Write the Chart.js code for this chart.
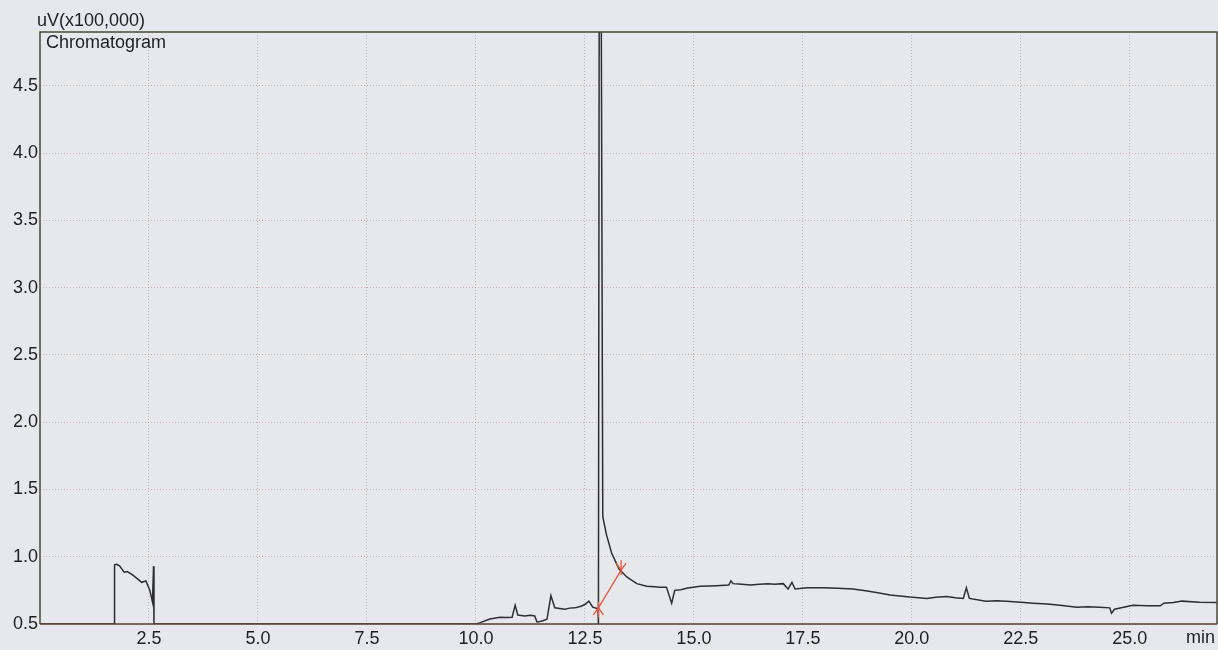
<!DOCTYPE html>
<html>
<head>
<meta charset="utf-8">
<script src="https://cdn.jsdelivr.net/npm/chart.js@4.4.1/dist/chart.umd.min.js"></script>
<style>
  html, body { margin: 0; padding: 0; background: #e7e8ec; }
  #wrap { width: 1218px; height: 650px; }
</style>
</head>
<body>
<div id="wrap"><canvas id="chrom" width="1218" height="650"></canvas></div>
<script>
// Retention time (min) and detector signal (uV x100,000); values below 0.5 sit on the axis
const retentionTime = [
  0, 1.70, 1.71, 1.76, 1.83, 1.93, 2.00, 2.10, 2.26, 2.33, 2.43, 2.52, 2.58, 2.605, 2.615, 2.63,
  10.00, 10.10, 10.32, 10.55, 10.70, 10.83, 10.90, 10.96, 11.12, 11.25, 11.35, 11.40, 11.50, 11.63,
  11.72, 11.81, 11.92, 12.04, 12.15, 12.27, 12.39, 12.50, 12.59, 12.68, 12.78, 12.80, 12.81, 12.83,
  12.87, 12.91, 12.99, 13.11, 13.28, 13.46, 13.69, 13.92, 14.10, 14.22, 14.37, 14.49, 14.56, 14.70,
  14.83, 15.14, 15.35, 15.52, 15.80, 15.85, 15.90, 16.10, 16.30, 16.50, 16.70, 16.85, 17.05, 17.16,
  17.25, 17.32, 17.60, 17.96, 18.30, 18.65, 18.98, 19.25, 19.50, 19.95, 20.15, 20.34, 20.55, 20.80,
  21.00, 21.18, 21.25, 21.32, 21.70, 21.95, 22.17, 22.50, 22.78, 23.10, 23.40, 23.78, 24.05, 24.30,
  24.54, 24.58, 24.65, 25.07, 25.40, 25.70, 25.78, 26.00, 26.20, 26.60, 27.00
];
const signal = [
  0.50, 0.50, 0.94, 0.944, 0.93, 0.885, 0.89, 0.87, 0.83, 0.81, 0.82, 0.75, 0.665, 0.93, 0.50, 0.50,
  0.50, 0.51, 0.537, 0.55, 0.548, 0.55, 0.64, 0.567, 0.56, 0.565, 0.56, 0.515, 0.52, 0.535,
  0.71, 0.62, 0.615, 0.61, 0.618, 0.62, 0.63, 0.645, 0.67, 0.625, 0.615, 0.62, 0.50, 5.60,
  5.60, 1.30, 1.17, 1.03, 0.91, 0.85, 0.80, 0.78, 0.776, 0.774, 0.774, 0.655, 0.75, 0.755,
  0.766, 0.78, 0.783, 0.785, 0.79, 0.82, 0.80, 0.795, 0.79, 0.795, 0.80, 0.795, 0.80, 0.76,
  0.81, 0.76, 0.77, 0.77, 0.765, 0.76, 0.745, 0.73, 0.715, 0.70, 0.695, 0.69, 0.698, 0.705,
  0.695, 0.69, 0.77, 0.69, 0.67, 0.672, 0.67, 0.662, 0.655, 0.648, 0.64, 0.625, 0.628, 0.625,
  0.62, 0.58, 0.61, 0.64, 0.636, 0.635, 0.655, 0.66, 0.67, 0.662, 0.66
];
// Integration baseline of the main peak (start, end)
const baselineTime = [12.81, 13.33];
const baselineSignal = [0.62, 0.90];

const xTickValues = [2.5, 5.0, 7.5, 10.0, 12.5, 15.0, 17.5, 20.0, 22.5, 25.0];
const yTickValues = [0.5, 1.0, 1.5, 2.0, 2.5, 3.0, 3.5, 4.0, 4.5];
const yUnitLabel = 'uV(x100,000)';
const plotTitle = 'Chromatogram';
const xUnitLabel = 'min';

const FONT = 'Liberation Sans, Arial, sans-serif';
const BG = '#e7e8ec';
const GRID = 'rgba(175,135,125,0.55)';
const INK = '#1f1f1f';

const trace = retentionTime.map((t, i) => ({ x: t, y: signal[i] }));
const baseline = baselineTime.map((t, i) => ({ x: t, y: baselineSignal[i] }));

const decor = {
  id: 'decor',
  beforeDraw(chart) {
    const c = chart.ctx;
    c.save();
    c.fillStyle = BG;
    c.fillRect(0, 0, chart.width, chart.height);
    c.restore();
  },
  afterDatasetsDraw(chart) {
    const c = chart.ctx;
    const a = chart.chartArea;
    const xs = chart.scales.x, ys = chart.scales.y;
    c.save();
    // integration markers
    c.strokeStyle = '#e8553a';
    c.lineWidth = 1.3;
    const p0x = xs.getPixelForValue(baselineTime[0]), p0y = ys.getPixelForValue(baselineSignal[0]);
    const p1x = xs.getPixelForValue(baselineTime[1]), p1y = ys.getPixelForValue(baselineSignal[1]);
    c.beginPath();
    c.moveTo(p0x, p0y - 6); c.lineTo(p0x, p0y + 10);
    c.moveTo(p0x - 5, p0y + 7); c.lineTo(p0x, p0y); c.lineTo(p0x + 5, p0y + 7);
    c.moveTo(p1x, p1y + 5); c.lineTo(p1x, p1y - 10);
    c.moveTo(p1x - 5, p1y - 7); c.lineTo(p1x, p1y); c.lineTo(p1x + 5, p1y - 7);
    c.stroke();
    // frame
    c.lineWidth = 1.5;
    c.strokeStyle = '#4a4838';
    c.beginPath();
    c.moveTo(a.left, a.bottom); c.lineTo(a.left, a.top); c.lineTo(a.right, a.top); c.lineTo(a.right, a.bottom);
    c.stroke();
    c.strokeStyle = '#5a3d35';
    c.beginPath();
    c.moveTo(a.left, a.bottom); c.lineTo(a.right, a.bottom);
    c.stroke();
    // labels
    c.fillStyle = INK;
    c.font = '18px ' + FONT;
    c.textBaseline = 'alphabetic';
    c.textAlign = 'left';
    c.fillText(yUnitLabel, 37, 26);
    c.fillText(plotTitle, 46, 48);
    c.fillText(xUnitLabel, 1186, 643);
    c.restore();
  }
};

new Chart(document.getElementById('chrom'), {
  type: 'line',
  data: {
    datasets: [
      {
        data: trace,
        borderColor: '#2e2e2e',
        borderWidth: 1.5,
        pointRadius: 0,
        tension: 0,
        fill: false
      },
      {
        data: baseline,
        borderColor: '#e8553a',
        borderWidth: 1.3,
        pointRadius: 0,
        tension: 0,
        fill: false
      }
    ]
  },
  plugins: [decor],
  options: {
    responsive: false,
    animation: false,
    events: [],
    layout: { padding: { top: 32, right: 1, left: 0, bottom: 0 } },
    plugins: { legend: { display: false }, tooltip: { enabled: false } },
    scales: {
      x: {
        type: 'linear',
        min: 0,
        max: 27,
        afterFit(s) { s.height = 26; },
        afterBuildTicks(s) { s.ticks = xTickValues.map(v => ({ value: v })); },
        border: { display: false, dash: [1, 2] },
        grid: { color: GRID, lineWidth: 1, drawTicks: false },
        ticks: {
          padding: 4,
          maxRotation: 0,
          autoSkip: false,
          color: INK,
          font: { family: FONT, size: 18 },
          callback: v => v.toFixed(1)
        }
      },
      y: {
        type: 'linear',
        min: 0.5,
        max: 4.9,
        afterFit(s) { s.width = 40; },
        afterBuildTicks(s) { s.ticks = yTickValues.map(v => ({ value: v })); },
        border: { display: false, dash: [1, 2] },
        grid: { color: GRID, lineWidth: 1, drawTicks: false },
        ticks: {
          padding: 2,
          autoSkip: false,
          color: INK,
          font: { family: FONT, size: 18 },
          callback: v => v.toFixed(1)
        }
      }
    }
  }
});
</script>
</body>
</html>
